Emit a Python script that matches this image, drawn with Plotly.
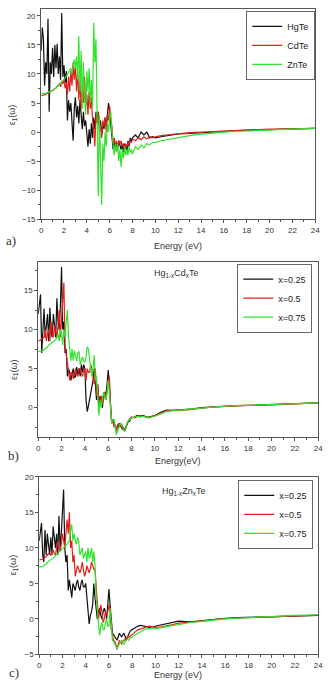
import plotly.graph_objects as go

# ---------------- data ----------------
energy = [0.0, 0.1, 0.2, 0.3, 0.4, 0.5, 0.6, 0.7, 0.8, 0.9,
          1.0, 1.1, 1.2, 1.3, 1.4, 1.5, 1.6, 1.7, 1.8, 1.9,
          2.0, 2.1, 2.2, 2.3, 2.4, 2.5, 2.6, 2.7, 2.8, 2.9,
          3.0, 3.1, 3.2, 3.3, 3.4, 3.5, 3.6, 3.7, 3.8, 3.9,
          4.0, 4.1, 4.2, 4.3, 4.4, 4.5, 4.6, 4.7, 4.8, 4.9,
          5.0, 5.1, 5.2, 5.3, 5.4, 5.5, 5.6, 5.7, 5.8, 5.9,
          6.0, 6.1, 6.2, 6.3, 6.4, 6.5, 6.6, 6.7, 6.8, 6.9,
          7.0, 7.1, 7.2, 7.3, 7.4, 7.5, 7.6, 7.7, 7.8, 7.9,
          8.0, 8.25, 8.5, 8.75, 9.0, 9.25, 9.5, 9.75, 10.0, 10.5,
          11.0, 11.5, 12, 13, 14, 15, 16, 17, 18, 19,
          20, 21, 22, 23, 24]

# Panel a
a_hgte = [14, 18, 16, 8, 12, 10, 19.5, 3.5, 12, 10,
          14.5, 9.5, 15, 11, 15.2, 10, 13, 9, 20.5, 9.5,
          11.5, 8.5, 10.5, 2, 5.5, 3.5, 5, 2.5, -1.5, 4,
          6, 2.5, 4.5, 1.5, 5.5, 3, 0.5, 3.5, 1, 2,
          -1, -2.5, 0.5, -2, 1.5, -1, 2.5, 0.5, 3.5, 2,
          3.5, 1, 2, -0.5, 1.5, 0.5, 2.5, 1, 3, 5,
          3.5, 1, -0.5, -3, -1.5, -3, -2, -3, -1.5, -2.5,
          -3, -2, -3.5, -2, -2.5, -3.5, -1.5, -2.5, -1, -1.5,
          -1, -0.5, -1, 0, -0.5, 0, -1, -0.8, -1, -0.8,
          -0.6, -0.5, -0.3, -0.25, -0.1, 0, 0.15, 0.25, 0.35, 0.35,
          0.4, 0.5, 0.55, 0.6, 0.65]
a_cdte = [6.3, 6.3, 6.35, 6.4, 6.5, 6.6, 6.7, 6.8, 6.9, 7.0,
          7.1, 7.3, 7.5, 7.6, 7.9, 8.1, 8.3, 7.8, 8.8, 8.3,
          9, 7.5, 8.5, 6.5, 9.5, 7, 10.5, 8, 12, 9,
          11.5, 7, 10.5, 5.5, 9, 4, 8, 5, 9.5, 4.5,
          6.5, 3, 7, 4, 6, 2, 1, -2.5, 3, 1.5,
          3.5, 0, 1, -1, 2, 1, 2.5, 0, 3, 2,
          4.5, 2, 1, -2, -1, -2.5, -1.5, -2.5, -1.5, -2,
          -1.5, -2.5, -2, -3, -2, -2.5, -1.8, -2.2, -1.5, -1.8,
          -1.2, -1.5, -1, -1.3, -0.8, -1.2, -0.8, -1, -0.8, -0.6,
          -0.5, -0.3, -0.2, -0.1, 0, 0.1, 0.2, 0.3, 0.4, 0.45,
          0.5, 0.5, 0.55, 0.6, 0.65]
a_znte = [6.6, 6.6, 6.6, 6.65, 6.7, 6.75, 6.8, 6.9, 7.0, 7.1,
          7.2, 7.3, 7.5, 7.6, 7.8, 8.0, 8.2, 8.4, 8.6, 8.8,
          9.0, 9.3, 9.6, 9.9, 10.2, 10.6, 11, 10, 11.5, 12.5,
          11, 13, 9, 16.5, 7, 14, 4, 12, 6, 3,
          10.5, 7, 11, 5, 9, 4, 18.8, 12, 16, 5,
          -11, 3, -6, -12.5, -2, -5, 0, -2.5, 1.5, 0,
          2.5, 3.5, 0, -2, -4, -2, -3.5, -2, -5, -3,
          -6, -3, -4.5, -2.5, -4, -3, -4, -2.5, -3.5, -3,
          -3.8, -2.5, -3, -2.2, -2.7, -2, -2.2, -1.8, -1.8, -1.5,
          -1.3, -1.1, -1, -0.6, -0.35, -0.15, 0, 0.1, 0.2, 0.3,
          0.4, 0.45, 0.5, 0.6, 0.65]

# Panel b  Hg(1-x)Cd(x)Te
b_x025 = [12, 13.5, 14.5, 7, 10, 12.7, 9, 10.5, 12, 8.5,
          12.8, 10, 9, 12, 10.5, 9, 14, 11, 10, 13,
          18, 10, 11, 7, 7.5, 4, 5, 4.5, 3.5, 4.5,
          5, 3.8, 4, 5.2, 4.2, 5, 4, 5.5, 4.5, 5.5,
          5, 1, -0.5, 0.2, 1, 2, 3, 3.5, 5, 2.5,
          1, 3, 0, 1.5, 1, 0, 1.5, 2, 1.5, 3,
          4.8, 3, 0, -2, -1.5, -1.8, -2.5, -3, -2.2, -2.5,
          -2, -2.2, -2.8, -2.5, -3, -2.5, -2, -1.8, -1.8, -1.5,
          -1.3, -1.2, -1, -1.1, -1, -1.2, -1.2, -1.1, -1, -0.6,
          -0.3, -0.35, -0.3, -0.2, 0, 0.1, 0.2, 0.25, 0.3, 0.35,
          0.4, 0.45, 0.5, 0.55, 0.6]
b_x050 = [8.5, 8.6, 8.6, 8.7, 8.8, 9, 10, 8.5, 9.5, 10,
          8.5, 11, 9.5, 9, 10.5, 9.5, 9, 10.5, 12.5, 9,
          11, 13, 16, 8, 7, 6, 5, 3.5, 4.5, 4.5,
          3.7, 4.5, 5, 4.2, 4, 5, 5, 4.3, 4, 4.8,
          5, 3.5, 5, 4.5, 4.5, 5.5, 5, 4, 3, 5,
          1.5, 3, 0, 0.5, 1.5, 0.5, 1, 2, 1, 2,
          3, 4, 0, -2, -1.5, -2.5, -2.2, -3, -2.5, -2,
          -2.3, -2.5, -2.2, -2.8, -3, -2.5, -2.2, -1.8, -1.5, -1.4,
          -1.2, -1.3, -1.1, -1, -1.1, -1.2, -1.3, -1.1, -1, -0.7,
          -0.4, -0.35, -0.35, -0.25, -0.05, 0.1, 0.15, 0.25, 0.3, 0.3,
          0.35, 0.45, 0.5, 0.55, 0.6]
b_x075 = [7.2, 7.2, 7.2, 7.25, 7.3, 7.4, 7.5, 7.6, 7.8, 8,
          8.1, 8.2, 8.3, 8.4, 8.5, 8.7, 9, 9.5, 8.5, 10,
          9.5, 8, 10, 9, 11, 12.5, 9, 7, 6, 7.5,
          6, 7.3, 6.5, 6, 7, 7.2, 5.5, 6, 6.5, 6,
          5.8, 6.5, 7.8, 7.5, 6, 5, 4, 5, 6.7, 3.5,
          4, 2, -1, 1, 0, 1, 2, 1.5, 1, 2,
          3.5, 2, 0, -2, -1.5, -1.5, -2.5, -3.5, -3, -2.5,
          -2.2, -2, -2.5, -2.8, -3, -2.7, -2, -1.7, -1.5, -1.5,
          -1.3, -1.2, -1.1, -1.2, -1.1, -1.2, -1.3, -1.2, -1.1, -0.8,
          -0.5, -0.4, -0.35, -0.2, -0.05, 0.1, 0.2, 0.25, 0.3, 0.35,
          0.4, 0.45, 0.5, 0.55, 0.6]

# Panel c  Hg(1-x)Zn(x)Te
c_x025 = [11, 12, 13.5, 9, 8, 12.5, 9, 12, 10, 9,
          11.5, 9, 13, 11, 10, 12, 9, 14.5, 10, 12,
          15, 18.2, 10, 8, 9, 4, 5.5, 4.5, 3, 5,
          4.5, 4, 5, 5.5, 4.5, 4, 5, 5.5, 4.5, 4.5,
          5, 3, 1, -0.7, 0.5, 1, 2, 5, 3, 1.5,
          0, 1, 1.5, 0.5, 0, 1, 1.5, 1, 0, 2,
          4.2, 2, 0, -2, -2.2, -2.5, -2.8, -3, -2.5, -2,
          -2.3, -2.5, -2.2, -2, -2.5, -3, -2.5, -2, -1.8, -1.6,
          -1.5, -1.2, -1, -0.9, -1, -1.1, -1.2, -1.1, -1, -0.8,
          -0.7, -0.4, -0.3, -0.4, -0.2, 0, 0.1, 0.2, 0.2, 0.25,
          0.3, 0.35, 0.4, 0.45, 0.5]
c_x050 = [8.3, 8.3, 8.35, 8.4, 8.5, 8.6, 8.8, 9, 9.2, 9.1,
          9, 9.5, 9.7, 9.2, 9, 10, 11, 10, 9.5, 10.5,
          12, 11, 10, 12, 14, 12, 15, 10, 11, 8,
          9, 6, 7, 7.5, 7, 6.5, 7, 8, 7, 6,
          6.5, 7.5, 7, 6.5, 7, 8, 7.5, 7, 7, 5,
          2, 0, 1, 2, 1, -0.5, 0, 1, 0.5, 1,
          2, 1, -1.5, -2.5, -3, -3.2, -3.5, -4.3, -3.5, -3,
          -3.3, -3.5, -3.2, -3, -2.8, -3, -2.5, -2.6, -2.4, -2.3,
          -2.2, -1.8, -1.5, -1.4, -1.2, -1.1, -1, -1.1, -1.2, -1.1,
          -1, -0.8, -0.6, -0.5, -0.3, -0.1, 0.05, 0.15, 0.2, 0.25,
          0.3, 0.4, 0.45, 0.5, 0.55]
c_x075 = [7.3, 7.3, 7.35, 7.4, 7.5, 7.6, 7.8, 7.9, 8.1, 8.2,
          8.3, 8.5, 8.6, 8.7, 8.9, 9, 9.2, 9.4, 9.5, 9.7,
          9.9, 10, 10.2, 10.4, 10.5, 10.8, 11, 12.5, 13.3, 11,
          12, 11, 10.5, 11.5, 11, 9, 9.5, 10, 8.5, 9,
          9.5, 8, 10, 8.5, 9, 10, 8, 9.5, 7.5, 3,
          1, -1, -2.3, -1, -0.5, -1.5, -1.5, -0.5, 0, -1,
          -1, 1.5, -1, -3, -3.2, -3.5, -4, -4.2, -3.8, -3.5,
          -3.2, -3, -3.5, -3.5, -3.2, -3, -2.8, -3, -2.7, -2.6,
          -2.5, -2.2, -2, -1.8, -1.5, -1.4, -1.3, -1.3, -1.4, -1.2,
          -1, -0.9, -0.8, -0.5, -0.35, -0.15, 0, 0.1, 0.2, 0.3,
          0.35, 0.45, 0.5, 0.55, 0.6]

x_ticks = [0, 2, 4, 6, 8, 10, 12, 14, 16, 18, 20, 22, 24]
labels_a = ["HgTe", "CdTe", "ZnTe"]
labels_bc = ["x=0.25", "x=0.5", "x=0.75"]

# ---------------- layout helpers ----------------
W, H = 331, 697
BLACK, RED, GREEN = "#111111", "#e3201b", "#2fe42a"
SANS = "Liberation Sans, Arial, sans-serif"


def px(x):
    return x / W


def py(y):
    return 1 - y / H


fig = go.Figure()

panels = [
    ([a_hgte, a_cdte, a_znte], labels_a, (40, 320), (5, 218), [-15, 21.2], "legend"),
    ([b_x025, b_x050, b_x075], labels_bc, (37, 323), (261, 439), [-3.8, 18.7], "legend2"),
    ([c_x025, c_x050, c_x075], labels_bc, (38, 323), (479, 659), [-5, 20], "legend3"),
]
colors = [BLACK, RED, GREEN]

for i, (series, labels, xd, yd, yr, leg) in enumerate(panels):
    n = "" if i == 0 else str(i + 1)
    for s, lab, col in zip(series, labels, colors):
        fig.add_trace(go.Scatter(x=energy, y=s, mode="lines", name=lab,
                                 line=dict(color=col, width=1.2),
                                 xaxis="x" + n, yaxis="y" + n, legend=leg))
    axcommon = dict(showline=True, linecolor="#555555", linewidth=1, mirror=True,
                    ticks="outside", ticklen=3, tickcolor="#555555",
                    showgrid=False, zeroline=False,
                    tickfont=dict(family=SANS, size=8, color="#333333"))
    fig.update_layout(**{
        "xaxis" + n: dict(domain=[px(xd[0]), px(xd[1])], range=[0, 24],
                          tickvals=x_ticks, anchor="y" + n,
                          minor=dict(dtick=1, ticks="outside", ticklen=2, tickcolor="#555555"),
                          **axcommon),
        "yaxis" + n: dict(domain=[py(yd[1]), py(yd[0])], range=yr, dtick=5,
                          anchor="x" + n,
                          minor=dict(dtick=2.5, ticks="outside", ticklen=2, tickcolor="#555555"),
                          **axcommon),
    })

legend_boxes = {"legend": (320, 7), "legend2": (317, 263), "legend3": (318, 482)}
for name, (lx, ly) in legend_boxes.items():
    fig.update_layout(**{name: dict(x=px(lx), y=py(ly), xanchor="right", yanchor="top",
                                    bgcolor="white", bordercolor="#666666", borderwidth=1,
                                    font=dict(family=SANS, size=9, color="#222222"),
                                    tracegroupgap=0, itemwidth=30)})

ann_font = dict(family=SANS, size=9, color="#333333")
annotations = [
    dict(text="Energy (eV)", x=px(180), y=py(245)),
    dict(text="Energy(eV)", x=px(180), y=py(463)),
    dict(text="Energy (eV)", x=px(180), y=py(680)),
    dict(text="Hg<sub>1-x</sub>Cd<sub>x</sub>Te", x=px(178), y=py(273)),
    dict(text="Hg<sub>1-x</sub>Zn<sub>x</sub>Te", x=px(185), y=py(494)),
    dict(text="ε<sub>1</sub>(ω)", x=px(11), y=py(112), textangle=-90),
    dict(text="ε<sub>1</sub>(ω)", x=px(12), y=py(370), textangle=-90),
    dict(text="ε<sub>1</sub>(ω)", x=px(12), y=py(568), textangle=-90),
]
for a in annotations:
    fig.add_annotation(xref="paper", yref="paper", showarrow=False,
                       xanchor="center", yanchor="middle", font=ann_font, **a)

serif = dict(family="Liberation Serif, DejaVu Serif", size=13, color="#333333")
for t, (x, y) in [("a)", (9, 240)), ("b)", (12, 457)), ("c)", (12, 677))]:
    fig.add_annotation(text=t, xref="paper", yref="paper", x=px(x), y=py(y),
                       showarrow=False, xanchor="center", yanchor="middle", font=serif)

fig.update_layout(width=W, height=H, autosize=False,
                  margin=dict(l=0, r=0, t=0, b=0),
                  paper_bgcolor="white", plot_bgcolor="white",
                  showlegend=True)

fig.write_html("out.html", config={"displayModeBar": False},
               post_script="document.body.style.margin='0';document.body.style.overflow='hidden';")
